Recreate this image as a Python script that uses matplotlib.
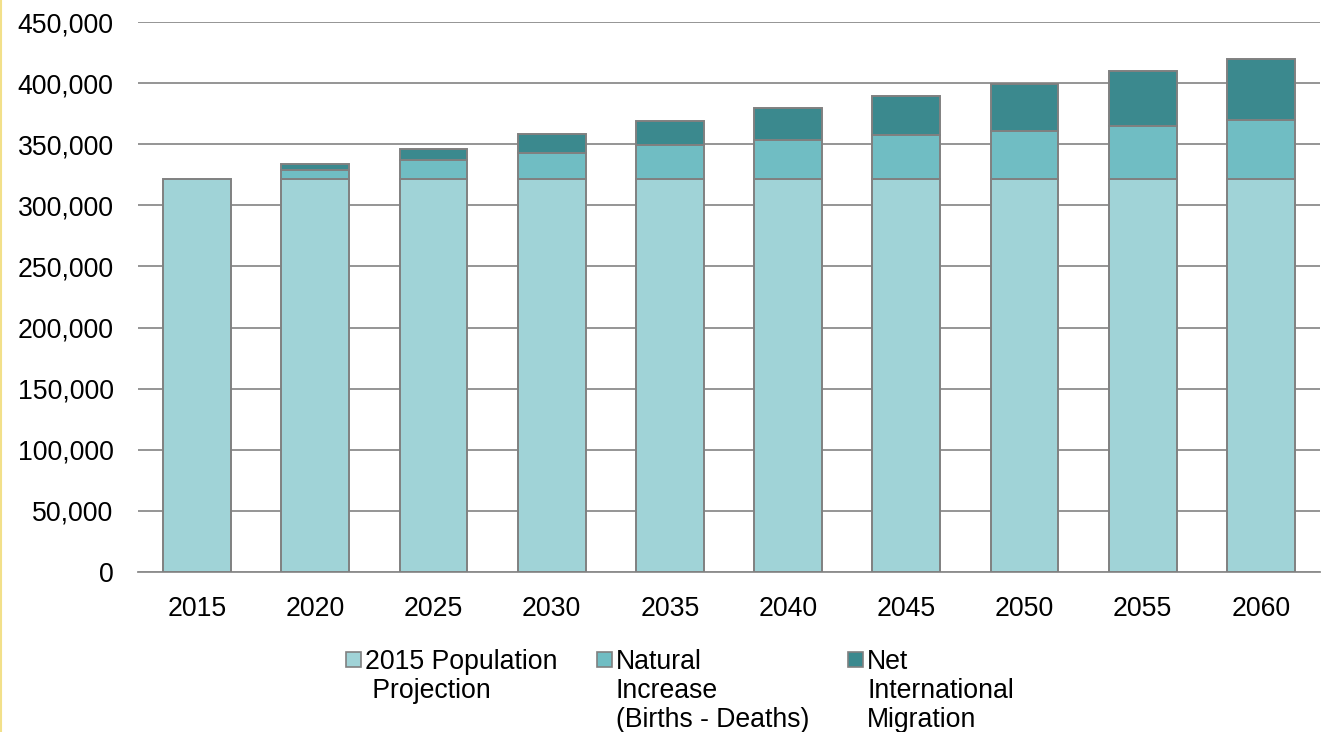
import matplotlib
matplotlib.use('Agg')
import matplotlib.pyplot as plt
from matplotlib.patches import Rectangle
from matplotlib.lines import Line2D
from matplotlib.ticker import FuncFormatter, MultipleLocator
import numpy as np

years = ["2015", "2020", "2025", "2030", "2035", "2040", "2045", "2050", "2055", "2060"]
base_2015 = [321400, 321400, 321400, 321400, 321400, 321400, 321400, 321400, 321400, 321400]
natural_increase = [0, 7300, 15500, 21800, 27700, 31700, 35800, 39600, 43700, 48100]
net_migration = [0, 4900, 9300, 15000, 20200, 26500, 32200, 38200, 44400, 50100]

labels = ["2015 Population\n Projection",
          "Natural\nIncrease\n(Births - Deaths)",
          "Net\nInternational\nMigration"]
colors = ['#A0D3D7', '#70BDC3', '#3B898E']
edge = '#808080'

plt.rcParams.update({'font.family': ['Liberation Sans', 'DejaVu Sans'], 'font.size': 19.2})

W, H = 1324, 732
fig = plt.figure(figsize=(W / 100, H / 100), dpi=100)
ax = fig.add_axes([138 / W, 1 - 572 / H, (1320 - 138) / W, 550 / H])

x = np.arange(len(years))
w = 0.575
b1 = np.array(base_2015)
b2 = b1 + np.array(natural_increase)
series = [(base_2015, np.zeros(len(years))), (natural_increase, b1), (net_migration, b2)]
for (vals, bottom), c in zip(series, colors):
    v = np.array(vals)
    mask = v > 0
    ax.bar(x[mask], v[mask], w, bottom=bottom[mask],
           color=c, edgecolor=edge, linewidth=1.4, zorder=3)

ax.set_xlim(-0.5, 9.5)
ax.set_ylim(0, 450000)
ax.yaxis.set_major_locator(MultipleLocator(50000))
ax.yaxis.set_major_formatter(FuncFormatter(lambda v, p: f'{v:,.0f}'))
ax.set_xticks(x)
ax.set_xticklabels(years)
ax.tick_params(axis='both', length=0, colors='black')
ax.tick_params(axis='y', pad=17.5)
ax.tick_params(axis='x', pad=17)
ax.grid(axis='y', color='#8C8C8C', linewidth=1.3, zorder=0)
for s in ['top', 'right', 'left']:
    ax.spines[s].set_visible(False)
ax.spines['bottom'].set_color('#8C8C8C')
ax.spines['bottom'].set_linewidth(1.3)

# legend drawn by hand so the swatch sits beside the first line of each label
sw_x = [346, 597, 848]
for sx, lbl, c in zip(sw_x, labels, colors):
    fig.add_artist(Rectangle((sx / W, 1 - 667 / H), 15 / W, 15 / H,
                             facecolor=c, edgecolor=edge, linewidth=1.2,
                             transform=fig.transFigure))
    fig.text((sx + 19) / W, 1 - 649 / H, lbl, ha='left', va='top',
             linespacing=1.16)

# thin yellow rule along the left edge
fig.add_artist(Line2D([1 / W, 1 / W], [0, 1], color='#F2E08A', linewidth=1.5,
                      transform=fig.transFigure))

fig.savefig('out.png', dpi=100)
